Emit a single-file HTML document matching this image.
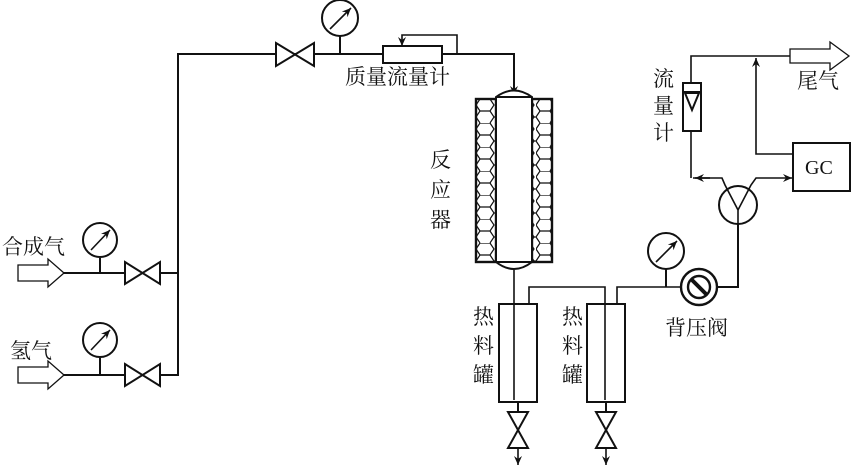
<!DOCTYPE html>
<html><head><meta charset="utf-8"><style>
body{margin:0;background:#fff;}
svg{display:block}
text{font-family:"Liberation Serif","Noto Serif CJK SC","Noto Sans CJK SC",serif;font-size:21px;fill:#111}
</style></head><body>
<svg width="852" height="469" viewBox="0 0 852 469" xmlns="http://www.w3.org/2000/svg">
<defs>
<marker id="ah" markerWidth="10" markerHeight="10" refX="9" refY="4" orient="auto" markerUnits="userSpaceOnUse">
<path d="M0,0 L9,4 L0,8 L3,4 z" fill="#111"/></marker>
<pattern id="hex" x="476" y="99" width="20" height="24" patternUnits="userSpaceOnUse">
<path d="M0,6 L4,0 L14,0 L18,6 L14,12 L4,12 Z M4,12 L0,18 L4,24 M14,12 L18,18 L14,24 M0,18 L-2,18 M18,18 L20,18" fill="none" stroke="#111" stroke-width="1.2"/>
</pattern>
</defs>
<g stroke="#111" stroke-width="2" fill="none">
<polyline points="178,273 178,54 514,54 514,95" marker-end="url(#ah)"/>
<polyline points="62,273 178,273"/>
<polyline points="62,375 178,375 178,273"/>
<path d="M276,43 L314,66 L314,43 L276,66 Z" fill="#fff"/>
<line x1="340" y1="36" x2="340" y2="54"/>
<circle cx="340" cy="18" r="18" fill="#fff"/>
<line x1="330" y1="29" x2="351" y2="8" marker-end="url(#ah)" stroke-width="1.6"/>
<rect x="383" y="46" width="59" height="17" fill="#fff"/>
<polyline points="457,54 457,35 402,35 402,46" marker-end="url(#ah)" stroke-width="1.6"/>
<line x1="100" y1="258" x2="100" y2="273"/>
<circle cx="100" cy="240" r="17" fill="#fff"/>
<line x1="91" y1="250" x2="110" y2="230" marker-end="url(#ah)" stroke-width="1.6"/>
<path d="M125,262 L160,284 L160,262 L125,284 Z" fill="#fff"/>
<line x1="100" y1="358" x2="100" y2="375"/>
<circle cx="100" cy="340" r="17" fill="#fff"/>
<line x1="91" y1="350" x2="110" y2="330" marker-end="url(#ah)" stroke-width="1.6"/>
<path d="M125,364 L160,386 L160,364 L125,386 Z" fill="#fff"/>
<path d="M18,265 L48,265 L48,259 L64,273 L48,287 L48,281 L18,281 Z" stroke-width="1.3" fill="#fff"/>
<path d="M18,367 L48,367 L48,361 L64,375 L48,389 L48,383 L18,383 Z" stroke-width="1.3" fill="#fff"/>
<rect x="476" y="99" width="20" height="163" fill="url(#hex)" stroke-width="2.4"/>
<rect x="532" y="99" width="20" height="163" fill="url(#hex)" stroke-width="2.4"/>
<path d="M496,97 Q514,84 532,97 L532,262 Q514,276 496,262 Z" fill="#fff"/>
<line x1="496" y1="97" x2="532" y2="97"/>
<line x1="496" y1="262" x2="532" y2="262"/>
<line x1="514" y1="270" x2="514" y2="400" stroke-width="1.6"/>
<rect x="499" y="304" width="38" height="98"/>
<rect x="587" y="304" width="38" height="98"/>
<polyline points="529,304 529,287 605,287 605,400" stroke-width="1.6"/>
<polyline points="617,304 617,287 682,287" stroke-width="1.6"/>
<line x1="518" y1="402" x2="518" y2="412"/>
<path d="M508,412 L528,448 L508,448 L528,412 Z" fill="#fff"/>
<line x1="518" y1="448" x2="518" y2="465" marker-end="url(#ah)" stroke-width="1.6"/>
<line x1="606" y1="402" x2="606" y2="412"/>
<path d="M596,412 L616,448 L596,448 L616,412 Z" fill="#fff"/>
<line x1="606" y1="448" x2="606" y2="465" marker-end="url(#ah)" stroke-width="1.6"/>
<line x1="666" y1="269" x2="666" y2="287"/>
<circle cx="666" cy="251" r="18" fill="#fff"/>
<line x1="656" y1="262" x2="677" y2="241" marker-end="url(#ah)" stroke-width="1.6"/>
<circle cx="699" cy="287" r="18" fill="#fff" stroke-width="2.4"/>
<circle cx="699" cy="287" r="11" stroke-width="2.4"/>
<line x1="691" y1="279" x2="707" y2="295" stroke-width="4"/>
<polyline points="717,287 738,287 738,224"/>
<circle cx="738" cy="205" r="19" fill="#fff"/>
<polyline points="738,224 738,210 725,185 722,178 693,178" stroke-width="1.6"/>
<line x1="710" y1="178" x2="695" y2="178" marker-end="url(#ah)" stroke-width="1.6"/>
<polyline points="738,210 751,185 756,178 792,178" marker-end="url(#ah)" stroke-width="1.6"/>
<polyline points="691,178 691,131" stroke-width="1.6"/>
<rect x="683" y="83" width="18" height="48" fill="#fff"/>
<line x1="683" y1="92" x2="701" y2="92"/>
<path d="M685,93 L699,93 L692,110 Z" fill="#fff"/>
<polyline points="691,83 691,56 790,56" stroke-width="1.6"/>
<rect x="793" y="143" width="57" height="48" fill="#fff"/>
<polyline points="793,154 756,154 756,58" marker-end="url(#ah)" stroke-width="1.6"/>
<path d="M790,49 L830,49 L830,42 L849,56 L830,70 L830,63 L790,63 Z" stroke-width="1.3" fill="#fff"/>
</g>
<text x="345" y="84">质量流量计</text>
<text x="2" y="254">合成气</text>
<text x="10" y="358">氢气</text>
<text x="430" y="167">反</text>
<text x="430" y="197">应</text>
<text x="430" y="227">器</text>
<text x="473" y="324">热</text>
<text x="473" y="353">料</text>
<text x="473" y="382">罐</text>
<text x="562" y="324">热</text>
<text x="562" y="353">料</text>
<text x="562" y="382">罐</text>
<text x="665" y="335">背压阀</text>
<text x="653" y="86">流</text>
<text x="653" y="113">量</text>
<text x="653" y="140">计</text>
<text x="797" y="88">尾气</text>
<text x="805" y="174" style="font-size:20px">GC</text>
</svg>
</body></html>
